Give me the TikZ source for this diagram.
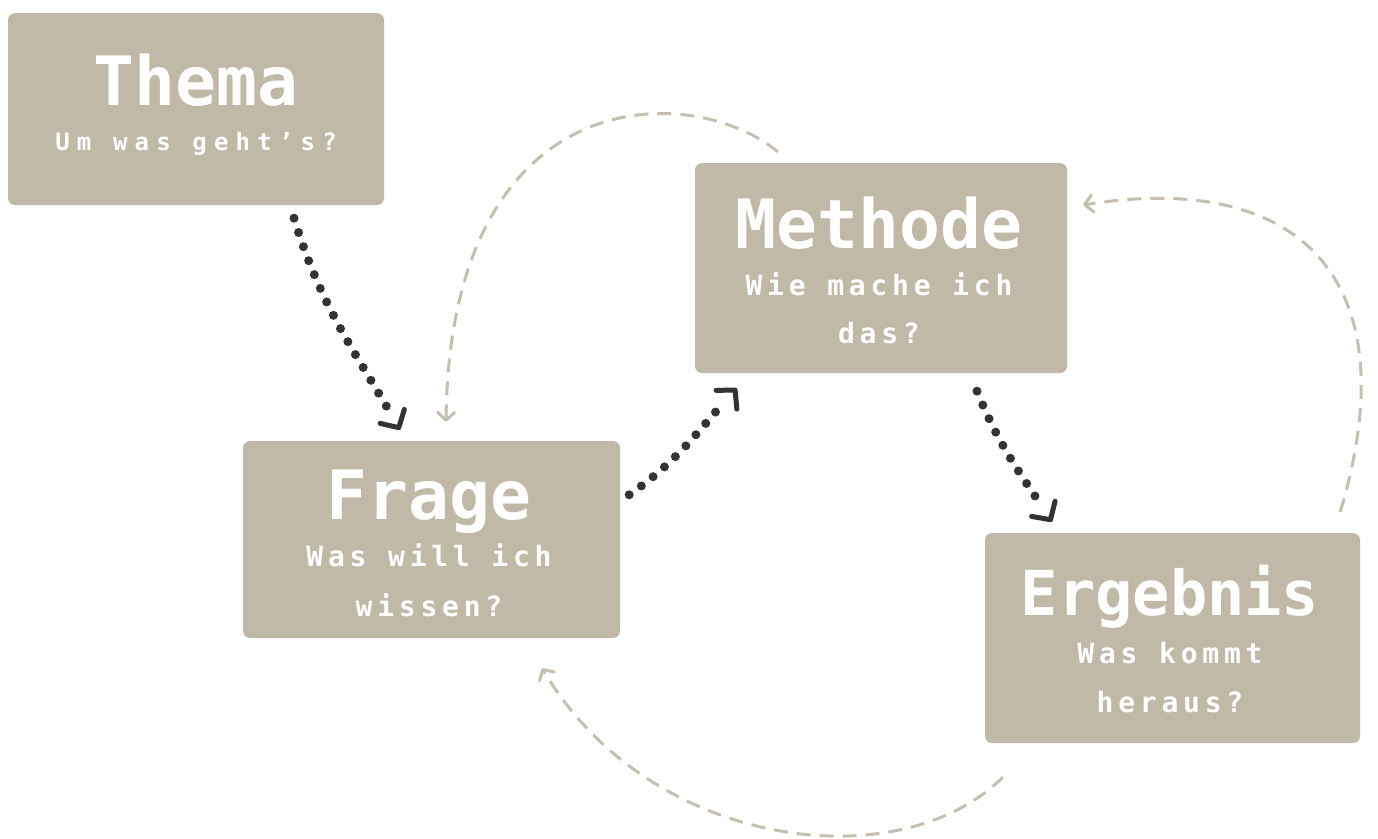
\documentclass[tikz,border=0pt]{standalone}
\usepackage{fontspec}
\usetikzlibrary{arrows.meta,decorations.markings}
\newfontfamily\titlefont{DejaVu Sans Mono}
\newfontfamily\subfont{DejaVu Sans Mono}[LetterSpace=17]
\newfontfamily\subfontwide{DejaVu Sans Mono}[LetterSpace=30]
\definecolor{boxc}{RGB}{192,185,168}
\definecolor{dashc}{RGB}{198,191,177}
\definecolor{dotc}{RGB}{51,51,51}
\tikzset{
  box/.style={fill=boxc, rounded corners=7pt, inner sep=0pt},
  ttl/.style={text=white, inner sep=0pt, anchor=base, font=\titlefont\bfseries\fontsize{68}{68}\selectfont},
  ttlsmall/.style={text=white, inner sep=0pt, anchor=base, font=\titlefont\bfseries\fontsize{62}{62}\selectfont},
  sub/.style={text=white, inner sep=0pt, anchor=base, font=\subfont\bfseries\fontsize{28}{28}\selectfont},
  subwide/.style={text=white, inner sep=0pt, anchor=base, font=\subfontwide\bfseries\fontsize{24}{24}\selectfont},
  dots/.style={draw=dotc, line width=9pt, line cap=round, dash pattern=on 0pt off 15pt,
    shorten >=21pt,
    postaction={decorate, decoration={markings, mark=at position 1 with {\pgfsetdash{}{0pt}\arrow[line width=5pt]{Straight Barb[length=13pt,width=28pt,line width=5pt,round]}}}}},
  dashy/.style={draw=dashc, line width=3pt, dash pattern=on 14pt off 9pt,
    -{Straight Barb[length=8pt,width=17pt,line width=3pt,round]}}
}
\begin{document}
\begin{tikzpicture}[x=1pt,y=-1pt]
\useasboundingbox (0,0) rectangle (1378,838);
% boxes
\node[box, minimum width=376pt, minimum height=192pt] (thema) at (196,109) {};
\node[box, minimum width=372pt, minimum height=210pt] (methode) at (881,268) {};
\node[box, minimum width=377pt, minimum height=197pt] (frage) at (431.5,539.5) {};
\node[box, minimum width=375pt, minimum height=210pt] (ergebnis) at (1172.5,638) {};
% texts
\node[ttl] (thematitle) at (196,105) {Thema};
\node[subwide] (themasub) at (196,150) {Um was geht’s?};
\node[ttl] (methodetitle) at (879,248) {Methode};
\node[sub] (methodesub1) at (879,295) {Wie mache ich};
\node[sub] (methodesub2) at (879,343) {das?};
\node[ttl] (fragetitle) at (429,519) {Frage};
\node[sub] (fragesub1) at (429,566) {Was will ich};
\node[sub] (fragesub2) at (429,616) {wissen?};
\node[ttlsmall] (ergebnistitle) at (1170,615) {Ergebnis};
\node[sub] (ergebnissub1) at (1170,663) {Was kommt};
\node[sub] (ergebnissub2) at (1170,712) {heraus?};
% dotted arrows
\draw[dots] ([shift={(98,13)}]thema.south) to[out=-73,in=120] ([shift={(-31.5,-11)}]frage.north);
\draw[dots] ([shift={(9,54)}]frage.north east) to[out=35,in=-132] ([shift={(42,15)}]methode.south west);
\draw[dots] ([shift={(96,18)}]methode.south) to[out=-68,in=123] ([shift={(67,-11)}]ergebnis.north west);
% dashed arcs
\draw[dashy] ([shift={(-103,-11)}]methode.north) .. controls +(-88,-72) and +(4,-342) .. ([shift={(14.5,-19)}]frage.north);
\draw[dashy] ([shift={(-20,-21)}]ergebnis.north east) .. controls +(70,-232) and +(217,-35) .. ([shift={(16,-63)}]methode.east);
\draw[dashy] ([shift={(18,34)}]ergebnis.south west) .. controls +(-103,103) and +(108,182) .. ([shift={(110.5,30)}]frage.south);
\end{tikzpicture}
\end{document}
